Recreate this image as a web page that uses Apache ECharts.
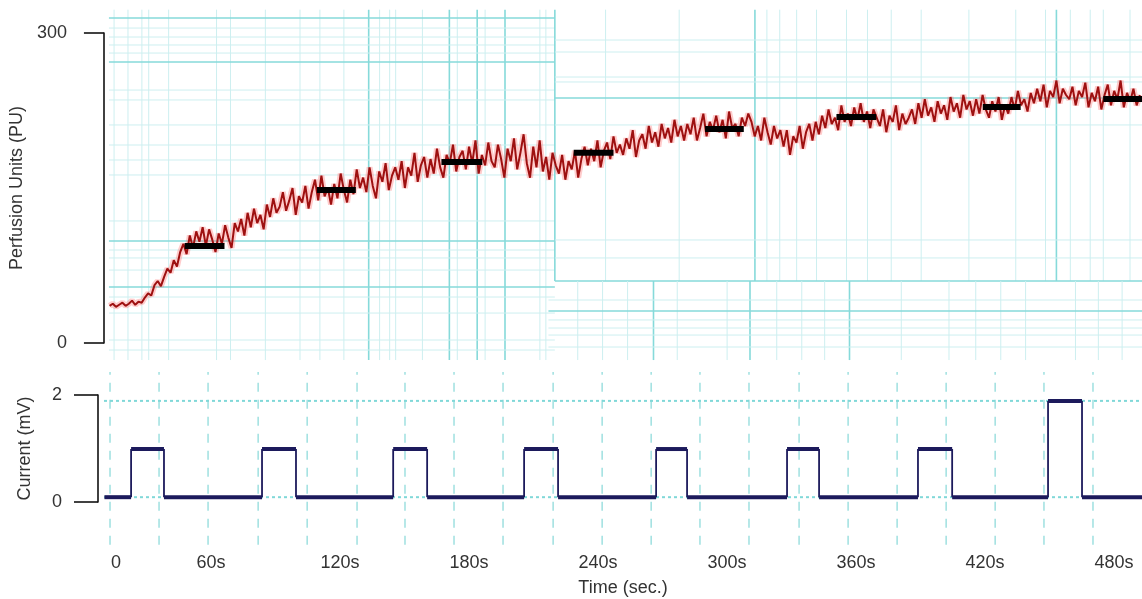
<!DOCTYPE html>
<html><head><meta charset="utf-8">
<style>html,body{margin:0;padding:0;background:#fff}#c{width:1142px;height:599px}</style>
<script src="https://cdn.jsdelivr.net/npm/echarts@6/dist/echarts.min.js"></script>
</head><body><div id="c"></div>
<script>
// ---------- data ----------
const T_MIN = 10.2, T_MAX = 493;
const xTickValues = [15.8, 60, 120, 180, 240, 300, 360, 420, 480];
const xTickLabels = ['0', '60s', '120s', '180s', '240s', '300s', '360s', '420s', '480s'];

const perfStart = 10.5, perfStep = 1.5;
const perfValues = [
36,38,35,37,39,36,38,41,37,40,
39,44,48,46,56,60,55,64,72,68,
80,74,88,96,86,104,92,108,98,112,
94,110,100,88,106,96,114,102,92,116,
108,120,104,126,112,130,116,124,110,134,
122,140,126,132,146,128,138,150,124,142,
136,152,130,146,158,138,162,142,150,134,
154,140,164,148,136,158,144,168,150,160,
146,170,152,140,166,156,174,148,162,170,
158,176,150,170,162,184,156,172,180,160,
178,164,188,170,160,182,174,192,166,180,
186,168,190,174,196,164,182,172,194,176,
170,192,178,160,188,176,198,168,184,202,
174,160,190,170,196,166,180,158,184,172,
164,182,158,176,168,186,160,178,190,172,
188,176,196,170,186,194,178,200,184,192,
182,198,188,206,180,196,202,188,210,194,
204,190,212,198,208,194,216,200,210,196,
212,202,218,196,208,222,200,214,206,220,
204,216,198,224,208,212,200,218,210,222,
214,200,210,196,218,204,192,210,198,206,
190,206,182,200,194,210,188,204,212,196,
214,202,220,208,226,212,218,206,230,214,
222,210,228,216,232,214,224,208,226,218,
210,226,204,220,214,230,206,222,212,218,
226,212,232,218,236,220,228,214,234,222,
230,216,238,224,232,218,240,226,234,220,
236,222,240,226,218,234,224,238,216,230,
222,238,226,244,230,236,224,242,232,246,
234,250,228,244,238,254,232,246,240,236,
248,230,244,238,252,228,242,234,248,226,
240,250,230,244,236,254,228,242,234,246,
230,240];

const barStart = [45.6, 107.4, 165.6, 227.4, 288.8, 350.2, 418.6, 474.9];
const barEnd   = [64.2, 125.6, 184.7, 246.0, 306.9, 368.8, 436.3, 493.0];
const barValue = [93.9, 148.1, 175.2, 184.0, 207.2, 218.8, 228.5, 236.2];

const pulseStart = [22.8, 83.7, 144.7, 205.6, 267.0, 327.9, 388.8, 449.3];
const pulseEnd   = [38.1, 99.5, 160.5, 221.4, 281.4, 342.8, 404.7, 465.1];
const pulseLevel = [0.99, 0.99, 0.99, 0.99, 0.99, 0.99, 0.99, 1.89];
const baseLevel = 0.09;

// background grid-paper lines (data units)
const TOP_PU_LO = -16.5, TOP_PU_HI = 322.6, SPLIT_T = 218.6, SPLIT_PU = 60.0;
const leftVT = [12.6,19.1,25.6,28.8,38.1,60.5,67.0,83.3,99.5,108.8,120.0,131.6,136.7,141.4,144.2,156.7,169.3,173.0,182.3,186.0,195.3,211.6,214.4];
const leftVStrong = [131.6,169.3,182.3,195.3];
const leftHP = [314.5,304.8,296.1,288.4,280.6,271.9,244.8,235.2,211.0,191.6,177.1,162.6,118.1,98.7,90.0,82.3,70.6,54.2,44.5,29.0,2.9,-6.8];
const leftHStrong = [314.5,271.9,98.7,54.2];
const ruVT = [218.6,242.3,276.7,312.1,317.7,323.7,331.6,340.9,354.9,364.7,375.8,389.8,412.1,434.0,447.9,453.0,459.5,468.8,474.9,487.4];
const ruVStrong = [218.6,312.1,453.0];
const ruHP = [293.2,281.6,257.4,252.6,237.1,211.0,99.7,82.3,60.0];
const ruHStrong = [237.1,60.0];
const rlVT = [229.3,240.9,252.6,264.7,275.8,299.1,309.8,322.3,334.0,344.7,356.3,380.5,402.8,415.3,427.0,438.6,461.9,472.6,483.7];
const rlVStrong = [264.7,309.8,356.3];
const rlHP = [41.6,31.0,22.3,14.5,7.7,-3.9];
const rlHStrong = [31.0];

const bottomDashT = [13.0,35.8,58.6,81.9,104.7,127.9,150.2,173.0,195.8,219.1,241.9,264.7,287.4,310.2,333.5,356.3,379.1,401.9,424.7,447.4,470.2];
const BOT_V_LO = -0.80, BOT_V_HI = 2.43;
const bottomDotV = [0.09, 1.89];

// ---------- build ----------
const perfData = perfValues.map((v, i) => [perfStart + i * perfStep, v]);

const bgTop = [];
leftVT.forEach(t => bgTop.push([t, TOP_PU_LO, t, TOP_PU_HI, leftVStrong.includes(t) ? 1 : 0]));
leftHP.forEach(p => bgTop.push([T_MIN, p, SPLIT_T, p, leftHStrong.includes(p) ? 1 : 0]));
ruVT.forEach(t => bgTop.push([t, SPLIT_PU, t, TOP_PU_HI, ruVStrong.includes(t) ? 1 : 0]));
ruHP.forEach(p => bgTop.push([SPLIT_T, p, T_MAX, p, ruHStrong.includes(p) ? 1 : 0]));
rlVT.forEach(t => bgTop.push([t, TOP_PU_LO, t, SPLIT_PU, rlVStrong.includes(t) ? 1 : 0]));
rlHP.forEach(p => bgTop.push([SPLIT_T - 3, p, T_MAX, p, rlHStrong.includes(p) ? 1 : 0]));

const bgBot = [];
bottomDashT.forEach(t => bgBot.push([t, BOT_V_LO, t, BOT_V_HI, 0]));
bottomDotV.forEach(v => bgBot.push([T_MIN, v, T_MAX, v, 1]));

const barSegs = barStart.map((s, i) => [s, barValue[i], barEnd[i], barValue[i], 0]);

const curSegs = [];
let prev = T_MIN + 0.2;
pulseStart.forEach((s, i) => {
  const e = pulseEnd[i], L = pulseLevel[i];
  curSegs.push([prev, baseLevel, s, baseLevel, 1]);
  curSegs.push([s, baseLevel, s, L, 0]);
  curSegs.push([s, L, e, L, 1]);
  curSegs.push([e, L, e, baseLevel, 0]);
  prev = e;
});
curSegs.push([prev, baseLevel, T_MAX, baseLevel, 1]);

function segRenderer(styleFn) {
  return function (params, api) {
    const a = api.coord([api.value(0), api.value(1)]);
    const b = api.coord([api.value(2), api.value(3)]);
    return { type: 'line', silent: true,
      shape: { x1: a[0], y1: a[1], x2: b[0], y2: b[1] },
      style: styleFn(api.value(4)) };
  };
}

const FONT = '"Liberation Sans", Arial, sans-serif';
const TXT = '#333';

const option = {
  animation: false,
  backgroundColor: '#fff',
  grid: [
    { left: 104, right: 0, top: 33, height: 310 },
    { left: 104, right: 0, top: 395, height: 107 }
  ],
  xAxis: [
    { gridIndex: 0, type: 'value', min: T_MIN, max: T_MAX, show: false },
    { gridIndex: 1, type: 'value', min: T_MIN, max: T_MAX,
      axisLine: { show: false }, axisTick: { show: false }, splitLine: { show: false },
      axisLabel: { customValues: xTickValues, margin: 52, fontSize: 18, color: TXT, fontFamily: FONT,
        formatter: (v) => { const i = xTickValues.indexOf(v); return i >= 0 ? xTickLabels[i] : ''; } },
      name: 'Time (sec.)', nameLocation: 'middle', nameGap: 77,
      nameTextStyle: { fontSize: 18, color: TXT, fontFamily: FONT } }
  ],
  yAxis: [
    { gridIndex: 0, type: 'value', min: 0, max: 300, interval: 300, offset: 5,
      axisLine: { show: true, lineStyle: { color: '#111', width: 1.6 } },
      axisTick: { show: true, length: 20, lineStyle: { color: '#111', width: 1.6 } },
      splitLine: { show: false },
      axisLabel: { margin: 37, fontSize: 18, color: TXT, fontFamily: FONT },
      name: 'Perfusion Units (PU)', nameLocation: 'middle', nameGap: 62,
      nameTextStyle: { fontSize: 18, color: TXT, fontFamily: FONT } },
    { gridIndex: 1, type: 'value', min: 0, max: 2, interval: 2, offset: 6,
      axisLine: { show: true, lineStyle: { color: '#111', width: 1.6 } },
      axisTick: { show: true, length: 24, lineStyle: { color: '#111', width: 1.6 } },
      splitLine: { show: false },
      axisLabel: { margin: 36, fontSize: 18, color: TXT, fontFamily: FONT },
      name: 'Current (mV)', nameLocation: 'middle', nameGap: 64,
      nameTextStyle: { fontSize: 18, color: TXT, fontFamily: FONT } }
  ],
  series: [
    { type: 'custom', xAxisIndex: 0, yAxisIndex: 0, z: 1, silent: true, data: bgTop,
      renderItem: segRenderer(k => ({ stroke: k ? '#86dada' : '#cdeff0', lineWidth: k ? 1.6 : 1 })) },
    { type: 'line', xAxisIndex: 0, yAxisIndex: 0, z: 3, silent: true, showSymbol: false, data: perfData,
      lineStyle: { color: 'rgba(255,110,110,0.35)', width: 6 } },
    { type: 'line', xAxisIndex: 0, yAxisIndex: 0, z: 4, silent: true, showSymbol: false, data: perfData,
      lineStyle: { color: '#9e1010', width: 2 } },
    { type: 'custom', xAxisIndex: 0, yAxisIndex: 0, z: 6, silent: true, data: barSegs,
      renderItem: segRenderer(() => ({ stroke: '#000', lineWidth: 6 })) },
    { type: 'custom', xAxisIndex: 1, yAxisIndex: 1, z: 1, silent: true, data: bgBot,
      renderItem: segRenderer(k => k
        ? { stroke: '#80d8d8', lineWidth: 2, lineDash: [3, 3] }
        : { stroke: '#9fe0e0', lineWidth: 1.5, lineDash: [9, 8] }) },
    { type: 'custom', xAxisIndex: 1, yAxisIndex: 1, z: 5, silent: true, data: curSegs,
      renderItem: segRenderer(k => ({ stroke: '#1c1a5c', lineWidth: k ? 4 : 1.8 })) }
  ]
};

const chart = echarts.init(document.getElementById('c'), null, { renderer: 'canvas' });
chart.setOption(option);
</script>
</body></html>
